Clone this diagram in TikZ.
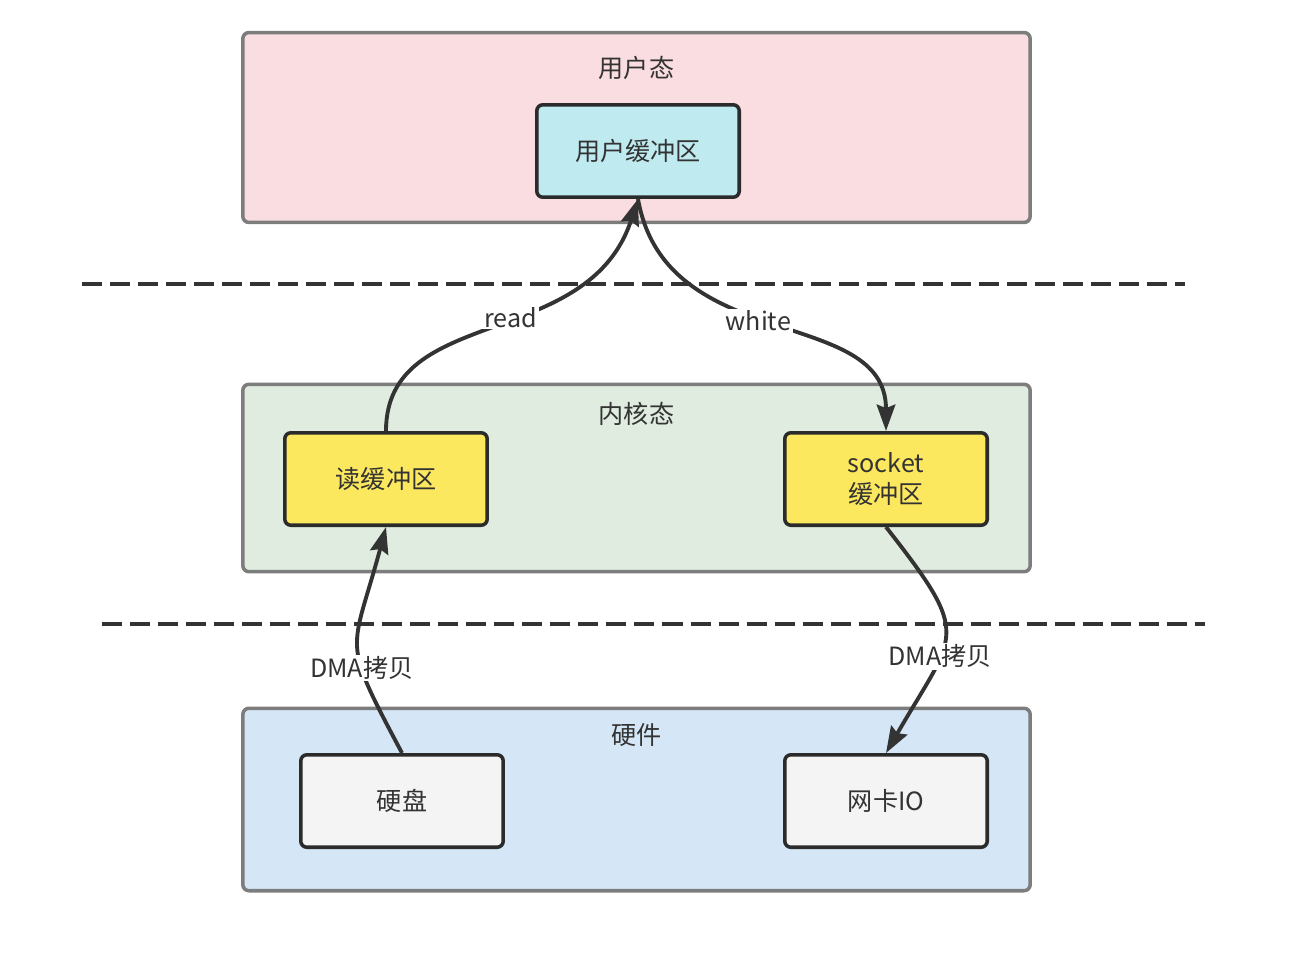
\documentclass[tikz,border=0pt]{standalone}
\usepackage{fontspec}
\setmainfont{Noto Sans CJK SC}
\usetikzlibrary{arrows.meta}

\definecolor{userpink}{HTML}{FADDE1}
\definecolor{kernelgreen}{HTML}{DFECDF}
\definecolor{hwblue}{HTML}{D5E7F6}
\definecolor{bufcyan}{HTML}{BEEAF0}
\definecolor{bufyellow}{HTML}{FCE85E}
\definecolor{devgray}{HTML}{F4F4F4}
\definecolor{layerline}{HTML}{7D7D7D}
\definecolor{boxline}{HTML}{2B2B2B}
\definecolor{arrowline}{HTML}{333333}

\begin{document}
\begin{tikzpicture}[x=0.02cm, y=-0.02cm,
  every node/.style={font=\fontsize{14.3}{17.6}\selectfont, text=black!80},
  layer/.style={draw=layerline, line width=2pt, rounded corners=3.5pt,
    minimum width=15.75cm, inner sep=0pt},
  buf/.style={draw=boxline, line width=2pt, rounded corners=3.5pt,
    minimum width=4.05cm, minimum height=1.85cm, align=center, inner sep=0pt},
  flow/.style={draw=arrowline, line width=2.2pt,
    -{Stealth[length=15pt, width=10.5pt, inset=2pt]}},
  tag/.style={fill=white, inner sep=1pt},
  sep/.style={draw=black!80, line width=2.3pt, dash pattern=on 11.4pt off 4.55pt}
]
\useasboundingbox (0,0) rectangle (1300,956);

\def\xm{636.5}
\def\xl{386}
\def\xr{886}

% layers
\node[layer, fill=userpink, minimum height=3.8cm] (user) at (\xm, 127.5) {};
\node[layer, fill=kernelgreen, minimum height=3.75cm] (kernel) at (\xm, 478) {};
\node[layer, fill=hwblue, minimum height=3.65cm] (hw) at (\xm, 799.5) {};

\node (usertitle) at (\xm, 68) {用户态};
\node (kerneltitle) at (\xm, 414) {内核态};
\node (hwtitle) at (\xm, 735) {硬件};

% dashed borders between layers
\coordinate (s1l) at (82, 284);
\coordinate (s1r) at (1185, 284);
\coordinate (s2l) at (102, 624);
\coordinate (s2r) at (1205, 624);
\draw[sep] (s1l) -- (s1r);
\draw[sep] (s2l) -- (s2r);

% buffers and devices
\node[buf, fill=bufcyan] (userbuf) at (638, 151) {用户缓冲区};
\node[buf, fill=bufyellow] (readbuf) at (\xl, 479) {读缓冲区};
\node[buf, fill=bufyellow] (sockbuf) at (\xr, 479) {socket\\缓冲区};
\node[buf, fill=devgray] (disk) at (402, 801) {硬盘};
\node[buf, fill=devgray] (nic) at (\xr, 801) {网卡IO};

% copies
\draw[flow] (readbuf.north) to[out=90, in=-108, out looseness=0.95, in looseness=1.2]
  node[tag, pos=0.55] {read} (userbuf.south);
\draw[flow] (userbuf.south) to[out=-80, in=90, out looseness=1.2, in looseness=0.95]
  node[tag, pos=0.46] {white} (sockbuf.north);
\draw[flow] (disk.north) to[out=118, in=-105, looseness=1.5]
  node[tag, pos=0.35] {DMA拷贝} (readbuf.south);
\draw[flow] (sockbuf.south) to[out=-52, in=60, looseness=1.6]
  node[tag, pos=0.62] {DMA拷贝} (nic.north);

\end{tikzpicture}
\end{document}
